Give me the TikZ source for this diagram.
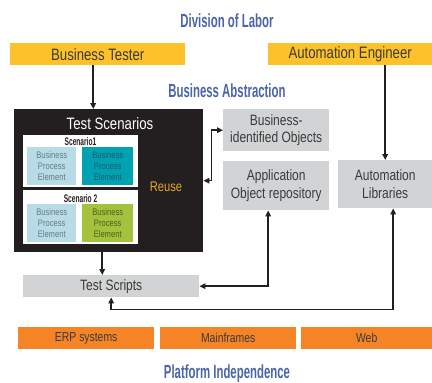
\documentclass[tikz,border=0pt]{standalone}
\usepackage{fontspec}
\usetikzlibrary{arrows.meta}
\newfontfamily\condfont{Liberation Sans}[FakeStretch=0.8]
\newfontfamily\headfont{Liberation Sans}[FakeStretch=0.6]
\definecolor{labor}{HTML}{4B64AA}
\definecolor{roleyellow}{HTML}{FDC22A}
\definecolor{platorange}{HTML}{F58427}
\definecolor{repogrey}{HTML}{D1D3D4}
\definecolor{ink}{HTML}{231F20}
\definecolor{textgrey}{HTML}{3B3B3B}
\definecolor{paleblue}{HTML}{B7DCE7}
\definecolor{palegrey}{HTML}{6A7B82}
\definecolor{tealbox}{HTML}{00A1B1}
\definecolor{tealdark}{HTML}{1D5E6A}
\definecolor{greenbox}{HTML}{A4C23B}
\definecolor{greendark}{HTML}{4E5E20}
\definecolor{reusegold}{HTML}{E4A524}

\begin{document}
\begin{tikzpicture}[x=1pt, y=-1pt,
    box/.style={rectangle, anchor=north west, inner sep=0pt, align=center, text=textgrey, font=\condfont\fontsize{15}{17.5}\selectfont},
    head/.style={anchor=base, text=labor, font=\headfont\bfseries\fontsize{19}{21}\selectfont},
    role/.style={box, fill=roleyellow, minimum height=22pt, font=\condfont\fontsize{16.5}{18}\selectfont},
    platform/.style={box, fill=platorange, minimum height=22pt, font=\condfont\fontsize{13}{15}\selectfont},
    repo/.style={box, fill=repogrey},
    scenlabel/.style={anchor=base, text=ink, font=\headfont\bfseries\fontsize{11}{12}\selectfont},
    element/.style={box, minimum height=38pt, font=\condfont\fontsize{9.5}{11}\selectfont},
    link/.style={line width=1.5pt, draw=ink, -{Triangle[length=6pt,width=5.5pt]}},
    both/.style={link, {Triangle[length=6pt,width=5.5pt]}-{Triangle[length=6pt,width=5.5pt]}}]
    \useasboundingbox (0,0) rectangle (432,383);

    % Division of labor
    \node[head] (labor) at (227,27) {Division of Labor};
    \node[role, minimum width=175pt] (tester) at (10,43) {Business Tester};
    \node[role, minimum width=164pt] (engineer) at (268,43) {Automation Engineer};

    % Business abstraction
    \node[head] (abstraction) at (227,97) {Business Abstraction};
    \node[box, fill=ink, minimum width=189pt, minimum height=143pt] (scen) at (14,109) {};
    \node[anchor=base, text=white, font=\condfont\fontsize{16.5}{18}\selectfont] (scen-title) at (110,129) {Test Scenarios};

    \node[box, fill=white, minimum width=115pt, minimum height=52pt] (sc-1) at (23,135) {};
    \node[scenlabel] (sc-1-label) at (80.5,145) {Scenario1};
    \node[element, fill=paleblue, text=palegrey, minimum width=49pt] (sc-1-a) at (27,147) {Business\\Process\\Element};
    \node[element, fill=tealbox, text=tealdark, minimum width=51pt] (sc-1-b) at (82,147) {Business\\Process\\Element};

    \node[box, fill=white, minimum width=115pt, minimum height=54pt] (sc-2) at (23,190) {};
    \node[scenlabel] (sc-2-label) at (80.5,202) {Scenario 2};
    \node[element, fill=paleblue, text=palegrey, minimum width=49pt] (sc-2-a) at (27,204) {Business\\Process\\Element};
    \node[element, fill=greenbox, text=greendark, minimum width=51pt] (sc-2-b) at (82,204) {Business\\Process\\Element};

    \node[text=reusegold, font=\condfont\fontsize{14}{16}\selectfont] (reuse) at (166,187) {Reuse};

    \node[repo, minimum width=106pt, minimum height=42pt] (bizobj) at (223,109) {Business-\\identified Objects};
    \node[repo, minimum width=106pt, minimum height=49pt] (aor) at (223,161) {Application\\Object repository};
    \node[repo, minimum width=94pt, minimum height=48pt] (autolib) at (338,160) {Automation\\Libraries};
    \node[repo, minimum width=176pt, minimum height=22pt] (scripts) at (23,275) {Test Scripts};

    % Platform independence
    \node[platform, minimum width=136pt] (erp) at (18,327) {ERP systems};
    \node[platform, minimum width=136pt] (mainframes) at (160,327) {Mainframes};
    \node[platform, minimum width=131pt] (web) at (301,327) {Web};
    \node[head] (independence) at (227,378) {Platform Independence};

    % Connectors
    \draw[link] ([xshift=-4.5pt]tester.south) -- ([xshift=-4.5pt]tester.south |- scen.north);
    \draw[link] (autolib.north |- engineer.south) -- (autolib.north);
    \draw[link] ([xshift=-6.5pt]scen.south) -- ([xshift=-6.5pt]scen.south |- scripts.north);
    \draw[both] (scen.east) -- ++(8,0) |- (bizobj.west);
    \draw[both] ([xshift=-8pt]aor.south) |- (scripts.east);
    \draw[both] ([xshift=8pt]autolib.south) -- ++(0,101) -| (scripts.south);

\end{tikzpicture}
\end{document}
